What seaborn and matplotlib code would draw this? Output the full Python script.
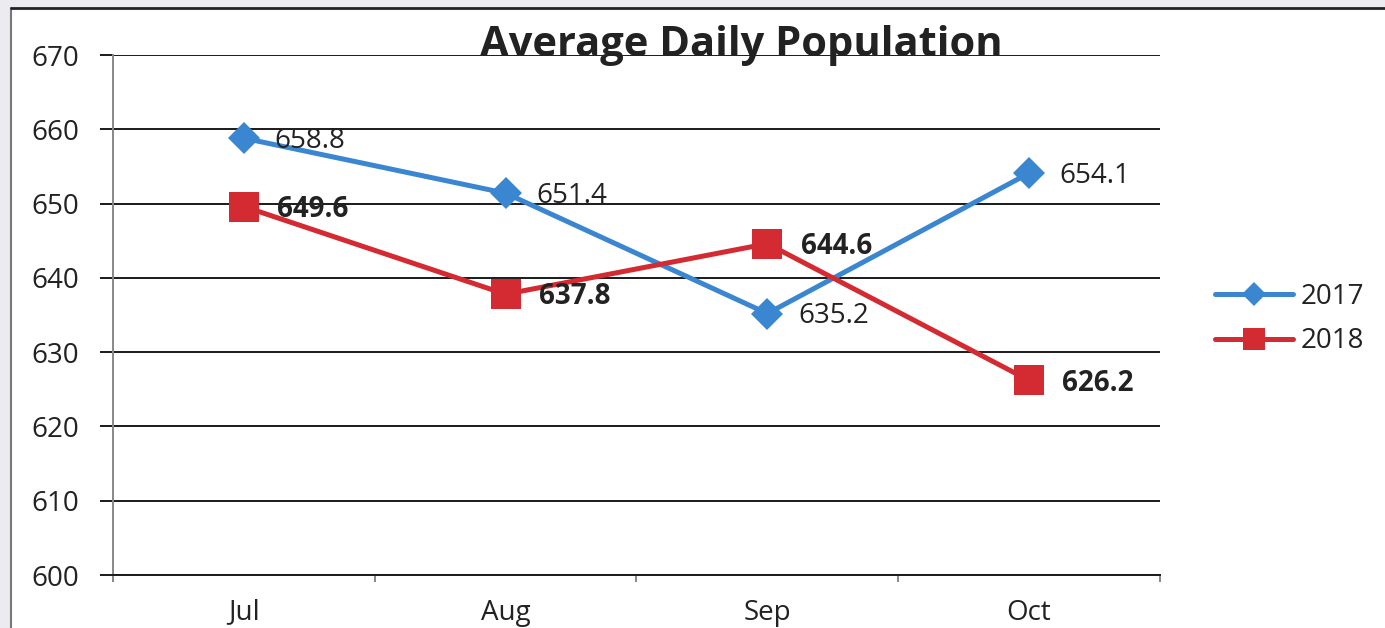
import pandas as pd
import seaborn as sns
import matplotlib.pyplot as plt
from matplotlib.lines import Line2D
from matplotlib.patches import Rectangle

# Data
months = ['Jul', 'Aug', 'Sep', 'Oct']
pop_2017 = [658.8, 651.4, 635.2, 654.1]
pop_2018 = [649.6, 637.8, 644.6, 626.2]
years = ['2017', '2018']
y_ticks = [600, 610, 620, 630, 640, 650, 660, 670]

df = pd.DataFrame({
    'month': months * 2,
    'value': pop_2017 + pop_2018,
    'year': [years[0]] * len(months) + [years[1]] * len(months),
})

sns.set_theme(style='white')
plt.rcParams['font.family'] = ['Open Sans', 'DejaVu Sans']

colors = {'2017': '#3a86d0', '2018': '#d42a31'}

fig = plt.figure(figsize=(13.85, 6.28), dpi=100)
fig.patch.set_facecolor('white')
ax = fig.add_axes([113 / 1385, 1 - 575 / 628, (1160 - 113) / 1385, (575 - 55) / 628])

sns.lineplot(data=df, x='month', y='value', hue='year', style='year',
             markers={'2017': 'D', '2018': 's'}, dashes=False,
             palette=colors, linewidth=3.6, markersize=16,
             markeredgewidth=0, ax=ax, legend=False)
# squares are drawn bigger than the diamonds
for line in ax.get_lines():
    if line.get_marker() == 's':
        line.set_markersize(21)

ax.set_xlim(-0.5, len(months) - 0.5)
ax.set_ylim(600, 670)
ax.set_yticks(y_ticks)
ax.set_xticks(range(len(months)))
ax.set_xticklabels(months)
ax.set_xticks([i - 0.5 for i in range(len(months) + 1)], minor=True)
ax.set_xlabel('')
ax.set_ylabel('')

ax.yaxis.grid(True, color='#1a1a1a', linewidth=1.4)
ax.set_axisbelow(True)
ax.tick_params(axis='y', which='major', left=True, length=9.5, width=1.4,
               color='#1a1a1a', pad=15, labelsize=20, labelcolor='#222222')
ax.tick_params(axis='x', which='major', bottom=False, length=0, pad=17,
               labelsize=20, labelcolor='#222222')
ax.tick_params(axis='x', which='minor', bottom=True, length=5, width=1.4,
               color='#888888')

for side in ['top', 'right']:
    ax.spines[side].set_visible(False)
ax.spines['left'].set_color('#888888')
ax.spines['left'].set_linewidth(1.4)
ax.spines['bottom'].set_color('#1a1a1a')
ax.spines['bottom'].set_linewidth(1.4)

# data labels
for i, v in enumerate(pop_2017):
    ax.annotate(f'{v:.1f}', (i, v), xytext=(22, -2), textcoords='offset points',
                ha='left', va='center', fontsize=20, color='#222222')
for i, v in enumerate(pop_2018):
    ax.annotate(f'{v:.1f}', (i, v), xytext=(24, -2), textcoords='offset points',
                ha='left', va='center', fontsize=20, fontweight='bold',
                color='#222222')

fig.text(741 / 1385, 1 - 46 / 628, 'Average Daily Population', ha='center',
         va='center', fontsize=30, fontweight='bold', color='#222222')

handles = [Line2D([], [], color=colors['2017'], marker='D', markersize=12,
                  markeredgewidth=0, linewidth=3.6),
           Line2D([], [], color=colors['2018'], marker='s', markersize=16,
                  markeredgewidth=0, linewidth=3.6)]
fig.legend(handles, years, loc='center left',
           bbox_to_anchor=(1190 / 1385, 1 - 319 / 628), frameon=False,
           fontsize=20, handlelength=2.8, handletextpad=0.3, labelspacing=0.6,
           labelcolor='#222222')

# scanned page frame
fig.add_artist(Rectangle((0, 0), 11 / 1385, 1, transform=fig.transFigure,
                         facecolor='#ececf0', edgecolor='none', zorder=0))
fig.add_artist(Rectangle((0, 1 - 8 / 628), 1, 8 / 628, transform=fig.transFigure,
                         facecolor='#ececf0', edgecolor='none', zorder=0))
fig.add_artist(Line2D([11 / 1385, 11 / 1385], [0, 1 - 8 / 628],
                      transform=fig.transFigure, color='#777777', linewidth=1.5))
fig.add_artist(Line2D([11 / 1385, 1], [1 - 8 / 628, 1 - 8 / 628],
                      transform=fig.transFigure, color='#222222', linewidth=2))

fig.savefig('out.png', dpi=100)
